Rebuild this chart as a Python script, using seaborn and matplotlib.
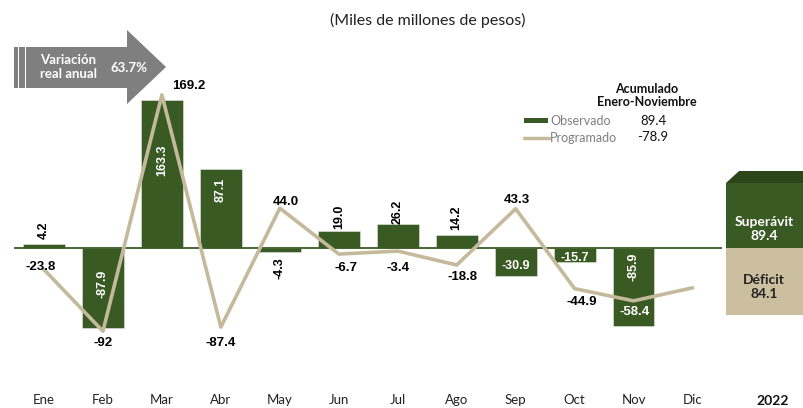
import numpy as np
import pandas as pd
import matplotlib.pyplot as plt
from matplotlib.patches import Polygon, Rectangle
import seaborn as sns

# Data
meses = ['Ene', 'Feb', 'Mar', 'Abr', 'May', 'Jun', 'Jul', 'Ago', 'Sep', 'Oct', 'Nov', 'Dic']
observado = [4.2, -87.9, 163.3, 87.1, -4.3, 19.0, 26.2, 14.2, -30.9, -15.7, -85.9]
programado = [-23.8, -92.0, 169.2, -87.4, 44.0, -6.7, -3.4, -18.8, 43.3, -44.9, -58.4, -44.0]
prog_labels = ['-23.8', '-92', '169.2', '-87.4', '44.0', '-6.7', '-3.4', '-18.8',
               '43.3', '-44.9', '-58.4', '']
acum_obs = '89.4'
acum_prog = '-78.9'
superavit = '89.4'
deficit = '84.1'
variacion = '63.7%'
anio = '2022'

# label styles: (rotation, colour, dy pixels from bar end)
obs_style = [(90, 'black', 14), (90, 'white', 44), (90, 'white', -60), (90, 'white', -21),
             (90, 'black', -16), (90, 'black', 14), (90, 'black', 12), (90, 'black', 17),
             (0, 'white', 10), (0, 'white', 4), (90, 'white', 59)]
# (dx, dy) pixel offsets for the programmed labels
prog_off = [(-3, 3), (0, -12), (27, 9), (0, -16), (6, 6), (7, -14), (0, -17), (6, -12),
            (1, 9), (7, -13), (1, -11), (0, 0)]
prog_col = ['black'] * 10 + ['white', 'black']

verde = '#3a5a24'
tan = '#c5b99b'
W, H = 804, 408

df_obs = pd.DataFrame({'mes': meses[:len(observado)], 'valor': observado})
df_prog = pd.DataFrame({'pos': np.arange(len(meses)), 'valor': programado})

sns.set_style('white')
plt.rcParams['font.family'] = ['Lato', 'DejaVu Sans']

fig = plt.figure(figsize=(W / 100, H / 100), dpi=100)
ax = fig.add_axes([14.5 / W, 18 / H, (722 - 14.5) / W, 350 / H])

sns.barplot(data=df_obs, x='mes', y='valor', order=meses, color=verde, saturation=1,
            width=0.71, edgecolor='#e4e9de', linewidth=0.4, ax=ax)
ax.axhline(0, color=verde, lw=1.3, zorder=1)
sns.lineplot(data=df_prog, x='pos', y='valor', color=tan, lw=2.6, ax=ax, legend=False)

ax.set_xlim(-0.5, 11.5)
ax.set_ylim(-156.9, 229.8)
ax.set_yticks([])
ax.set_xlabel('')
ax.set_ylabel('')
ax.tick_params(axis='x', length=0, pad=3, labelsize=9.5, colors='#222222')
for s in ax.spines.values():
    s.set_visible(False)

num_font = ['Liberation Sans', 'DejaVu Sans']
for i, v in enumerate(observado):
    rot, col, dy = obs_style[i]
    ax.annotate(f'{v:.1f}', xy=(i, v), xytext=(0, dy), textcoords='offset pixels',
                ha='center', va='center', rotation=rot, color=col, fontsize=9,
                fontweight='bold', family=num_font)

for i, v in enumerate(programado):
    if not prog_labels[i]:
        continue
    dx, dy = prog_off[i]
    ax.annotate(prog_labels[i], xy=(i, v), xytext=(dx, dy), textcoords='offset pixels',
                ha='center', va='center', color=prog_col[i], fontsize=9.5,
                fontweight='bold', family=num_font, zorder=5)


def px(x, y):
    return (x / W, 1 - y / H)


# Title
fig.text(*px(428, 20), '(Miles de millones de pesos)', ha='center', va='center',
         fontsize=11.5, color='#222222')

# Arrow
arrow = Polygon([px(14, 47), px(127, 47), px(127, 30), px(166, 67), px(127, 104),
                 px(127, 88), px(14, 88)], closed=True, transform=fig.transFigure,
                facecolor='#7f7f7f', edgecolor='none')
fig.patches.append(arrow)
for xs in (18, 25):
    fig.patches.append(Rectangle(px(xs, 88), 1.5 / W, 41 / H, transform=fig.transFigure,
                                 facecolor='white', edgecolor='none'))
fig.text(*px(68, 67), 'Variación\nreal anual', ha='center', va='center', fontsize=9.5,
         fontweight='bold', color='white', linespacing=1.1)
fig.text(*px(129, 68), variacion, ha='center', va='center', fontsize=9.5,
         fontweight='bold', color='white')

# Legend block
fig.text(*px(647, 89), 'Acumulado', ha='center', va='center', fontsize=9,
         fontweight='bold', color='#111111')
fig.text(*px(647, 102), 'Enero-Noviembre', ha='center', va='center', fontsize=9,
         fontweight='bold', color='#111111')
fig.patches.append(Rectangle(px(524, 123), 24 / W, 5 / H, transform=fig.transFigure,
                             facecolor=verde, edgecolor='none'))
fig.lines.append(plt.Line2D([524 / W, 549 / W], [1 - 138 / H, 1 - 138 / H],
                            transform=fig.transFigure, color=tan, lw=2.5))
fig.text(*px(550, 121), 'Observado', ha='left', va='center', fontsize=9, color='#7f7f7f')
fig.text(*px(550, 138), 'Programado', ha='left', va='center', fontsize=9, color='#7f7f7f')
fig.text(*px(654, 121), acum_obs, ha='center', va='center', fontsize=9.5, color='#111111')
fig.text(*px(653, 137), acum_prog, ha='center', va='center', fontsize=9.5, color='#111111')

# Right box
fig.patches.append(Polygon([px(726, 183), px(739, 171), px(804, 171), px(804, 183)],
                           closed=True, transform=fig.transFigure,
                           facecolor='#2c4619', edgecolor='none'))
fig.patches.append(Rectangle(px(726, 248), 78 / W, 65 / H, transform=fig.transFigure,
                             facecolor=verde, edgecolor='none'))
fig.patches.append(Rectangle(px(726, 315), 78 / W, 67 / H, transform=fig.transFigure,
                             facecolor='#cbbf9f', edgecolor='none'))
fig.text(*px(764, 229), f'Superávit\n{superavit}', ha='center', va='center', fontsize=10,
         fontweight='bold', color='white', linespacing=1.25)
fig.text(*px(764, 287), f'Déficit\n{deficit}', ha='center', va='center', fontsize=10,
         fontweight='bold', color='#222222', linespacing=1.25)

fig.text(*px(773, 401), anio, ha='center', va='center', fontsize=10, fontweight='bold',
         color='#111111')

fig.savefig('out.png', dpi=100)
